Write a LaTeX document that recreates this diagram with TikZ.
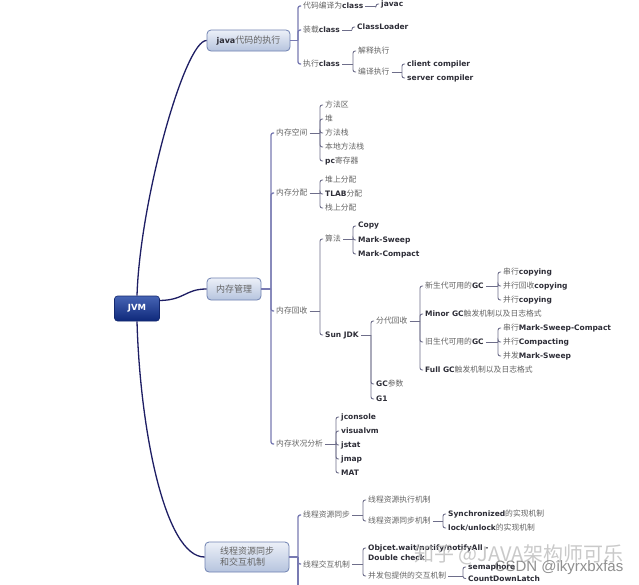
\documentclass[tikz,border=0pt]{standalone}
\usepackage{fontspec}
\setmainfont{DejaVu Sans}
\newfontfamily\cjkfont{Noto Sans CJK SC}
\newfontfamily\wmlatin{Liberation Sans}
\usetikzlibrary{calc}
\definecolor{navy}{RGB}{30,30,100}
\definecolor{brk}{RGB}{120,122,178}
\definecolor{brk2}{RGB}{110,110,138}
\definecolor{zhc}{RGB}{100,100,100}
\definecolor{enc}{RGB}{45,45,55}
\definecolor{toptop}{RGB}{236,240,248}
\definecolor{topbot}{RGB}{182,196,222}
\definecolor{topbd}{RGB}{112,130,178}
\definecolor{roottop}{RGB}{70,100,180}
\definecolor{rootbot}{RGB}{14,40,122}
\definecolor{rootbd}{RGB}{20,40,110}
\newcommand\zhx[1]{{\cjkfont\fontsize{7.8}{9}\selectfont\color{zhc}#1}}
\newcommand\enx[1]{{\bfseries\fontsize{7.5}{9}\selectfont\color{enc}#1}}
\newcommand\zht[1]{{\cjkfont\fontsize{9}{12}\selectfont\color{zhc}#1}}
\newcommand\ent[1]{{\bfseries\fontsize{8}{12}\selectfont\color{enc}#1}}
\newcommand\branch[4][conn]{%
  \draw[#1] (#2.east) -- (#2.east -| #3,0);
  \foreach \c in {#4}{\draw[#1,rounded corners=2.2pt] (#2.east -| #3,0) |- (\c.west);}
}
\tikzset{
  root/.style={draw=rootbd, line width=0.6pt, rounded corners=3pt, top color=roottop, bottom color=rootbot,
    text=white, font=\bfseries\fontsize{8.5}{10}\selectfont, minimum width=45pt, minimum height=25pt, inner sep=0pt},
  topic/.style={draw=topbd, line width=0.8pt, rounded corners=4pt, top color=toptop, bottom color=topbot, inner sep=0pt},
  lf/.style={anchor=west, inner xsep=2pt, inner ysep=1pt},
  conn/.style={draw=brk2, line width=0.9pt},
  connA/.style={draw=brk, line width=1.3pt},
  mainc/.style={draw=navy, line width=1.3pt},
  wmA/.style={font=\cjkfont\fontsize{20}{22}\selectfont, text=black!28, opacity=0.75, inner sep=0pt},
  wmB/.style={font=\wmlatin\fontsize{15}{17}\selectfont, text=black!55, opacity=0.8, inner sep=0pt}
}
\begin{document}
\begin{tikzpicture}[x=1pt,y=-1pt]
\useasboundingbox (0,0) rectangle (639,584);
\fill[white] (0,0) rectangle (639,584);
\begin{scope}
\clip (0,0) rectangle (639,584);
% root and topics
\node[root] (jvm) at (137,308.5) {JVM};
\node[topic, minimum width=83pt, minimum height=21pt] (java) at (248.5,40.5) {\ent{java}\zht{代码的执行}};
\node[topic, minimum width=54pt, minimum height=22pt] (mem) at (234,289) {\zht{内存管理}};
\node[topic, minimum width=84pt, minimum height=30pt, align=left] (thr) at (247,557) {\zht{线程资源同步}\\[-1pt]\zht{和交互机制}};

\draw[mainc] (jvm.north) .. controls (140,200) and (185,40) .. (java.west);
\draw[mainc] ([yshift=8pt]jvm.east) .. controls (185,300) and (185,289) .. (mem.west);
\draw[mainc] (jvm.south) .. controls (140,430) and (165,557) .. (thr.west);

% java branch
\node[lf] (c1) at (301,6) {\zhx{代码编译为}\enx{class}};
\node[lf] (c2) at (301,30) {\zhx{装载}\enx{class}};
\node[lf] (c3) at (301,64) {\zhx{执行}\enx{class}};
\node[lf] (c11) at (379,4) {\enx{javac}};
\node[lf] (c21) at (355,27) {\enx{ClassLoader}};
\node[lf] (c31) at (356,51) {\zhx{解释执行}};
\node[lf] (c32) at (356,72) {\zhx{编译执行}};
\node[lf] (c321) at (405,64) {\enx{client compiler}};
\node[lf] (c322) at (405,78) {\enx{server compiler}};
\branch[connA]{java}{298}{c1,c2,c3}
\branch{c1}{376}{c11}
\branch{c2}{352}{c21}
\branch{c3}{353}{c31,c32}
\branch{c32}{402}{c321,c322}

% memory branch
\node[lf] (m1) at (274,133) {\zhx{内存空间}};
\node[lf] (m2) at (274,193) {\zhx{内存分配}};
\node[lf] (m3) at (274,311) {\zhx{内存回收}};
\node[lf] (m4) at (274,444) {\zhx{内存状况分析}};
\branch[connA]{mem}{271}{m1,m2,m3,m4}

\node[lf] (m11) at (323,105) {\zhx{方法区}};
\node[lf] (m12) at (323,119) {\zhx{堆}};
\node[lf] (m13) at (323,133) {\zhx{方法栈}};
\node[lf] (m14) at (323,147) {\zhx{本地方法栈}};
\node[lf] (m15) at (323,161) {\enx{pc}\zhx{寄存器}};
\branch{m1}{320}{m11,m12,m13,m14,m15}

\node[lf] (m21) at (323,180) {\zhx{堆上分配}};
\node[lf] (m22) at (323,194) {\enx{TLAB}\zhx{分配}};
\node[lf] (m23) at (323,208) {\zhx{栈上分配}};
\branch{m2}{320}{m21,m22,m23}

\node[lf] (m31) at (323,239) {\zhx{算法}};
\node[lf] (m32) at (323,335) {\enx{Sun JDK}};
\branch{m3}{320}{m31,m32}

\node[lf] (a1) at (356,226) {\enx{Copy}};
\node[lf] (a2) at (356,240) {\enx{Mark-Sweep}};
\node[lf] (a3) at (356,254) {\enx{Mark-Compact}};
\branch{m31}{353}{a1,a2,a3}

\node[lf] (s1) at (374,321) {\zhx{分代回收}};
\node[lf] (s2) at (374,384) {\enx{GC}\zhx{参数}};
\node[lf] (s3) at (374,399) {\enx{G1}};
\branch{m32}{371}{s1,s2,s3}

\node[lf] (g1) at (423,286) {\zhx{新生代可用的}\enx{GC}};
\node[lf] (g2) at (423,314) {\enx{Minor GC}\zhx{触发机制以及日志格式}};
\node[lf] (g3) at (423,342) {\zhx{旧生代可用的}\enx{GC}};
\node[lf] (g4) at (423,370) {\enx{Full GC}\zhx{触发机制以及日志格式}};
\branch{s1}{420}{g1,g2,g3,g4}

\node[lf] (n1) at (501,272) {\zhx{串行}\enx{copying}};
\node[lf] (n2) at (501,286) {\zhx{并行回收}\enx{copying}};
\node[lf] (n3) at (501,300) {\zhx{并行}\enx{copying}};
\branch{g1}{498}{n1,n2,n3}

\node[lf] (o1) at (501,328) {\zhx{串行}\enx{Mark-Sweep-Compact}};
\node[lf] (o2) at (501,342) {\zhx{并行}\enx{Compacting}};
\node[lf] (o3) at (501,356) {\zhx{并发}\enx{Mark-Sweep}};
\branch{g3}{498}{o1,o2,o3}

\node[lf] (k1) at (339,417) {\enx{jconsole}};
\node[lf] (k2) at (339,431) {\enx{visualvm}};
\node[lf] (k3) at (339,445) {\enx{jstat}};
\node[lf] (k4) at (339,459) {\enx{jmap}};
\node[lf] (k5) at (339,473) {\enx{MAT}};
\branch{m4}{336}{k1,k2,k3,k4,k5}

% thread branch
\node[lf] (t1) at (301,515) {\zhx{线程资源同步}};
\node[lf] (t2) at (301,564) {\zhx{线程交互机制}};
\coordinate (tend) at (298,590);
\branch[connA]{thr}{298}{t1,t2}
\draw[connA] (thr.east -| 298,0) -- (tend);

\node[lf] (t11) at (366,500) {\zhx{线程资源执行机制}};
\node[lf] (t12) at (366,521) {\zhx{线程资源同步机制}};
\branch{t1}{363}{t11,t12}

\node[lf] (t121) at (446,514) {\enx{Synchronized}\zhx{的实现机制}};
\node[lf] (t122) at (446,528) {\enx{lock/unlock}\zhx{的实现机制}};
\branch{t12}{443}{t121,t122}

\node[lf, align=left] (t21) at (366,552.5) {\enx{Objcet.wait/notify/notifyAll -}\\[-2pt]\enx{Double check}};
\node[lf] (t22) at (366,576) {\zhx{并发包提供的交互机制}};
\draw[conn] (t2.east) -- (t2.east -| 363,0);
\draw[conn,rounded corners=2.2pt] (t2.east -| 363,0) |- ([yshift=4.5pt]t21.west);
\draw[conn,rounded corners=2.2pt] (t2.east -| 363,0) |- (t22.west);

\node[lf] (t221) at (466,567) {\enx{semaphore}};
\node[lf] (t222) at (466,578.5) {\enx{CountDownLatch}};
\branch{t22}{463}{t221,t222}

% watermarks
\node[wmA] (wm1) at (519,555) {知乎 @JAVA架构师可乐};
\node[wmB] (wm2) at (559,568) {CSDN @ikyrxbxfas};
\end{scope}
\end{tikzpicture}
\end{document}
